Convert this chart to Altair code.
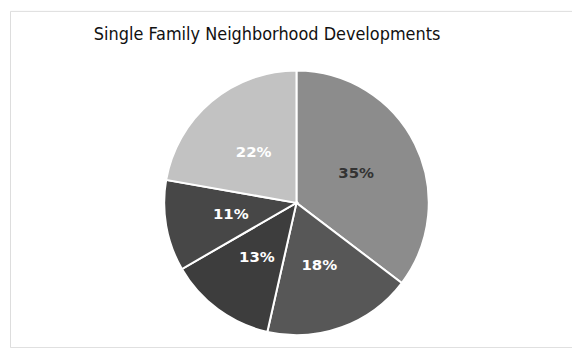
import altair as alt
import pandas as pd

labels = ["35%", "18%", "13%", "11%", "22%"]
values = [35, 18, 13, 11, 22]
order = [1, 2, 3, 4, 5]
fills = ["#8c8c8c", "#575757", "#3d3d3d", "#474747", "#c2c2c2"]
text_colors = ["#333333", "#ffffff", "#ffffff", "#ffffff", "#ffffff"]

df = pd.DataFrame({"label": labels, "value": values, "order": order,
                   "fill": fills, "tcolor": text_colors})

base = alt.Chart(df).encode(
    theta=alt.Theta("value:Q", stack=True),
    order=alt.Order("order:Q"),
    x=alt.value(288),
    y=alt.value(193),
)

arcs = base.mark_arc(outerRadius=133, stroke="white", strokeWidth=2).encode(
    color=alt.Color("fill:N", scale=None)
)

text = base.mark_text(radius=67, fontSize=15, fontWeight="bold",
                      font="DejaVu Sans").encode(
    text="label:N",
    color=alt.Color("tcolor:N", scale=None),
)

chart = (arcs + text).properties(
    width=565,
    height=338,
    padding={"left": 2, "top": 2, "right": 0, "bottom": 0},
    autosize=alt.AutoSizeParams(type="none"),
    title=alt.TitleParams(
        "Single Family Neighborhood Developments",
        orient="top", anchor="middle", offset=-33, dx=-24,
        fontSize=18, font="DejaVu Sans Condensed", fontWeight="normal",
        color="#111111",
    ),
).configure_view(stroke="#444444", strokeWidth=1).configure(background="white")

chart.save("out.html", embed_options={"renderer": "svg", "actions": False})
